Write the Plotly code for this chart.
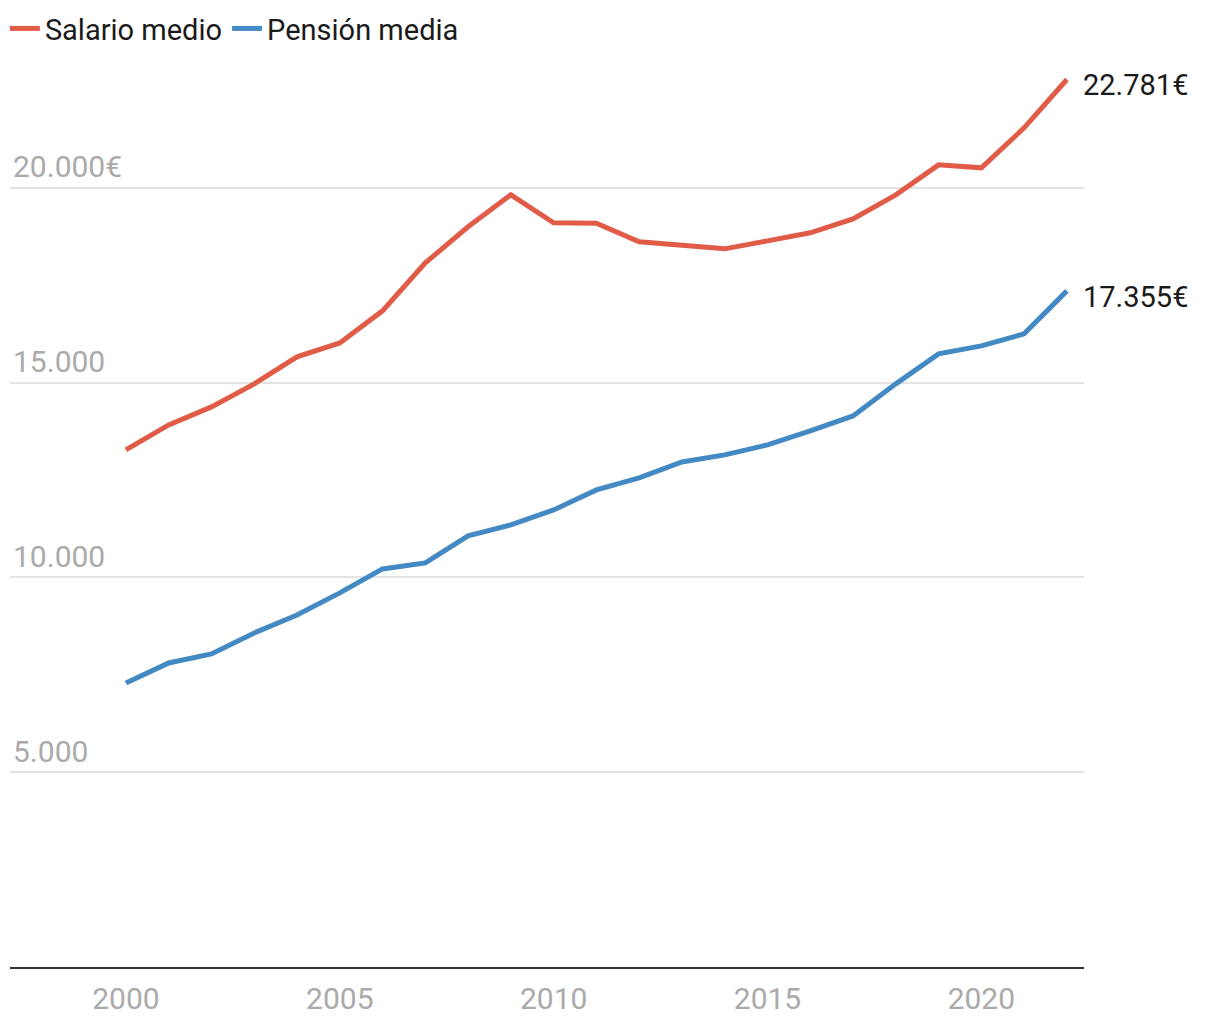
import plotly.graph_objects as go

years = list(range(2000, 2023))
salario = [13273, 13915, 14377, 14968, 15661, 16020, 16842, 18074, 18999, 19820,
           19101, 19090, 18614, 18511, 18434, 18639, 18845, 19204, 19820, 20590,
           20513, 21540, 22781]
pension = [7291, 7805, 8036, 8575, 9037, 9602, 10218, 10372, 11065, 11348,
           11733, 12246, 12555, 12965, 13145, 13402, 13761, 14146, 14968, 15738,
           15943, 16252, 17355]
y_tickvals = [5000, 10000, 15000, 20000]
y_ticktext = ["5.000", "10.000", "15.000", "20.000€"]
x_tickvals = [2000, 2005, 2010, 2015, 2020]
end_labels = ["22.781€", "17.355€"]

RED = "#e05c47"
BLUE = "#4389c4"
FONT = "Roboto"

fig = go.Figure()
fig.add_trace(go.Scatter(x=years, y=salario, mode="lines", name="Salario medio",
                         line=dict(color=RED, width=5)))
fig.add_trace(go.Scatter(x=years, y=pension, mode="lines", name="Pensión media",
                         line=dict(color=BLUE, width=5)))

for series, lab in zip([salario, pension], end_labels):
    fig.add_annotation(x=years[-1], y=series[-1], text=lab, showarrow=False,
                       xanchor="left", yanchor="middle", xshift=14, yshift=-6,
                       font=dict(family=FONT, size=29, color="#1a1a1a"))

fig.update_layout(
    width=1220, height=1020,
    margin=dict(l=10, r=136, t=32, b=53, autoexpand=False),
    paper_bgcolor="white", plot_bgcolor="white",
    showlegend=True,
    legend=dict(orientation="h", x=0.004, y=0.997, xref="container", yref="container",
                xanchor="left", yanchor="top",
                font=dict(family=FONT, size=29, color="#1a1a1a"),
                itemwidth=30, traceorder="normal", bgcolor="rgba(0,0,0,0)"),
    xaxis=dict(range=[1997.29, 2022.4], tickvals=x_tickvals, showgrid=False,
               showline=True, linecolor="#333333", linewidth=2,
               ticks="", ticklabelstandoff=4, automargin=False,
               tickfont=dict(family=FONT, size=30, color="#aaaaaa"), zeroline=False),
    yaxis=dict(range=[0, 24000], tickvals=y_tickvals, ticktext=y_ticktext,
               showgrid=True, gridcolor="#e3e3e3", gridwidth=1.5, automargin=False,
               ticklabelposition="inside top", ticks="", zeroline=False,
               showline=False,
               tickfont=dict(family=FONT, size=30, color="#aaaaaa")),
)

fig.write_html("out.html")
